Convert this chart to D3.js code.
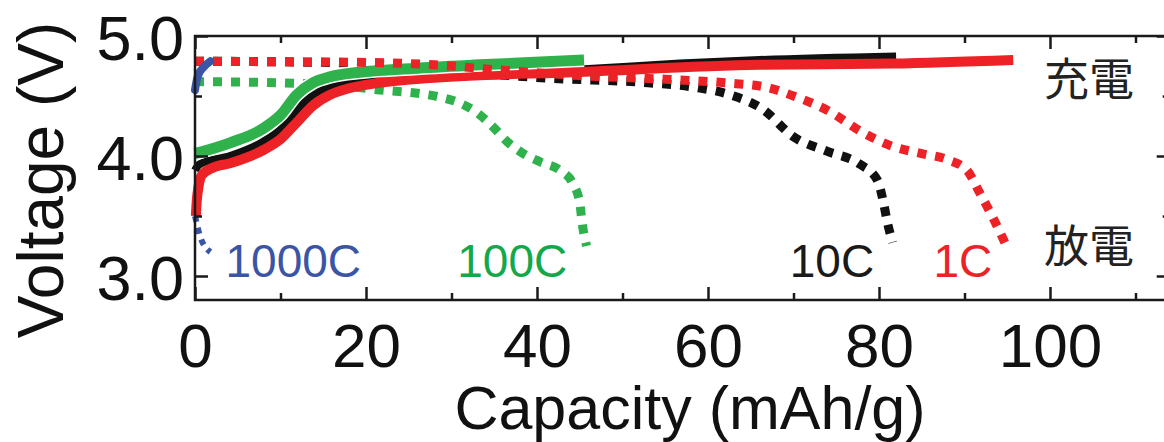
<!DOCTYPE html>
<html>
<head>
<meta charset="utf-8">
<script src="https://cdn.jsdelivr.net/npm/d3@7"></script>
<style>
  body { margin: 0; background: #fff; }
  svg { display: block; }
</style>
</head>
<body>
<div id="chart"></div>
<script>
let width = 1164;
let height = 442;

// capacity (mAh/g), voltage (V)
var charge1C = [[0.1, 3.5], [0.2, 3.62], [0.4, 3.74], [0.8, 3.84], [2, 3.9], [4.1, 3.94], [8, 4.05], [10, 4.14], [11.9, 4.28], [13.8, 4.42], [15.8, 4.51], [17.8, 4.56], [21.6, 4.61], [27.5, 4.65], [45, 4.7], [66, 4.76], [81.6, 4.77], [95.7, 4.8]];
var charge10C = [[0, 3.88], [0.5, 3.93], [4.1, 4.0], [8, 4.12], [10, 4.22], [11.9, 4.38], [13.8, 4.51], [15.8, 4.57], [19.6, 4.63], [25.5, 4.66], [45, 4.72], [56.7, 4.77], [66, 4.8], [82, 4.83]];
var charge100C = [[0, 4.02], [4.1, 4.11], [8, 4.23], [10, 4.34], [11.9, 4.51], [13.8, 4.61], [15.8, 4.66], [19.6, 4.7], [25.5, 4.73], [33.3, 4.76], [45.5, 4.8]];
var charge1000C = [[0, 4.55], [0.3, 4.66], [1, 4.74], [1.8, 4.79]];

var discharge1C = [[0, 4.79], [10, 4.785], [20, 4.78], [28, 4.76], [35, 4.72], [45, 4.67], [55, 4.64], [62, 4.61], [67, 4.57], [70, 4.5], [74, 4.38], [78, 4.2], [81.6, 4.08], [85, 4.02], [88, 3.97], [90.3, 3.88], [91.8, 3.69], [93.3, 3.49], [95.1, 3.22]];
var discharge10C = [[0, 4.79], [10, 4.785], [20, 4.77], [28, 4.72], [41, 4.65], [53, 4.61], [58.7, 4.57], [62.6, 4.51], [66.4, 4.39], [70, 4.16], [73.9, 4.04], [77.8, 3.93], [79.8, 3.8], [80.5, 3.62], [81, 3.44], [81.6, 3.28]];
var discharge100C = [[0, 4.62], [10, 4.61], [18, 4.58], [21.6, 4.55], [26.3, 4.52], [28.7, 4.49], [31, 4.44], [33, 4.36], [34.9, 4.24], [36.5, 4.12], [38.4, 4.02], [40.4, 3.95], [42.7, 3.88], [44.2, 3.77], [45, 3.61], [45.3, 3.43], [45.8, 3.25]];
var discharge1000C = [[0, 3.5], [0.6, 3.33], [1.8, 3.2]];

var xMajor = [0, 20, 40, 60, 80, 100];
var xMinor = [10, 30, 50, 70, 90, 110];
var yMajor = [3.0, 4.0, 5.0];
var yMinor = [3.5, 4.5];

var rateLabels = ["1000C", "100C", "10C", "1C"];
var rateLabelX = [11.5, 37.1, 74.5, 89.8];
var stateLabels = ["充電", "放電"];

var RED = "#ec2227", BLACK = "#111111", GREEN = "#2fb24c", BLUE = "#3a55a6";

var x = d3.scaleLinear().domain([0, 114]).range([195, 195 + 114 * 8.55]);
var y = d3.scaleLinear().domain([2.8, 5.0]).range([300, 36]);

var svg = d3.select("#chart").append("svg")
    .attr("width", width)
    .attr("height", height)
    .style("font-family", "'Liberation Sans', Arial, sans-serif");

var line = d3.line()
    .x(function (d) { return x(d[0]); })
    .y(function (d) { return y(d[1]); })
    .curve(d3.curveMonotoneX);

// discharge curves are dotted, charge curves solid
function dotted(data, color, w) {
    svg.append("path")
        .attr("d", line(data))
        .attr("fill", "none")
        .attr("stroke", color)
        .attr("stroke-width", w)
        .attr("stroke-dasharray", w + "," + w);
}
function solid(data, color, w, halo) {
    if (halo) {
        svg.append("path")
            .attr("d", line(data))
            .attr("fill", "none")
            .attr("stroke", "#fff")
            .attr("stroke-width", w + 3)
            .attr("stroke-linejoin", "round");
    }
    svg.append("path")
        .attr("d", line(data))
        .attr("fill", "none")
        .attr("stroke", color)
        .attr("stroke-width", w)
        .attr("stroke-linejoin", "round");
}

dotted(discharge100C, GREEN, 9);
dotted(discharge10C, BLACK, 9);
solid(charge10C, BLACK, 8, true);
solid(charge1C, RED, 10, false);
solid(charge100C, GREEN, 11, true);
dotted(discharge1C, RED, 9);
dotted(discharge1000C, BLUE, 6);
svg.append("path")
    .attr("d", line(charge1000C))
    .attr("fill", "none")
    .attr("stroke", BLUE)
    .attr("stroke-width", 8)
    .attr("stroke-linecap", "round");

// axes, ticks pointing inwards
function styleAxis(g) {
    g.select(".domain").remove();
    g.selectAll(".tick line").attr("stroke", "#1a1a1a").attr("stroke-width", 2.5);
}

svg.append("g").attr("transform", "translate(0,300)")
    .call(d3.axisBottom(x).tickValues(xMajor).tickSize(-13).tickPadding(23).tickFormat(d3.format("d")))
    .call(styleAxis)
    .selectAll("text").attr("font-size", 62).attr("fill", "#111").attr("font-family", "'Liberation Sans', Arial, sans-serif");
svg.append("g").attr("transform", "translate(0,300)")
    .call(d3.axisBottom(x).tickValues(xMinor).tickSize(-7).tickFormat(""))
    .call(styleAxis);
svg.append("g").attr("transform", "translate(0,36)")
    .call(d3.axisTop(x).tickValues(xMajor).tickSize(-13).tickFormat(""))
    .call(styleAxis);
svg.append("g").attr("transform", "translate(0,36)")
    .call(d3.axisTop(x).tickValues(xMinor).tickSize(-7).tickFormat(""))
    .call(styleAxis);

svg.append("g").attr("transform", "translate(195,0)")
    .call(d3.axisLeft(y).tickValues(yMajor).tickSize(-13).tickPadding(11).tickFormat(d3.format(".1f")))
    .call(styleAxis)
    .selectAll("text").attr("font-size", 63).attr("dy", "0.38em").attr("fill", "#111").attr("font-family", "'Liberation Sans', Arial, sans-serif");
svg.append("g").attr("transform", "translate(195,0)")
    .call(d3.axisLeft(y).tickValues(yMinor).tickSize(-7).tickFormat(""))
    .call(styleAxis);
svg.append("g").attr("transform", "translate(" + x.range()[1] + ",0)")
    .call(d3.axisRight(y).tickValues(yMajor).tickSize(-13).tickFormat(""))
    .call(styleAxis);
svg.append("g").attr("transform", "translate(" + x.range()[1] + ",0)")
    .call(d3.axisRight(y).tickValues(yMinor).tickSize(-7).tickFormat(""))
    .call(styleAxis);

// frame
svg.append("rect")
    .attr("x", x.range()[0])
    .attr("y", y.range()[1])
    .attr("width", x.range()[1] - x.range()[0])
    .attr("height", y.range()[0] - y.range()[1])
    .attr("fill", "none")
    .attr("stroke", "#1a1a1a")
    .attr("stroke-width", 2.5);

// axis titles
svg.append("text")
    .attr("x", 690)
    .attr("y", 429)
    .attr("text-anchor", "middle")
    .attr("font-size", 61)
    .attr("fill", "#111")
    .text("Capacity (mAh/g)");
svg.append("text")
    .attr("transform", "translate(63,180) rotate(-90)")
    .attr("text-anchor", "middle")
    .attr("font-size", 64)
    .attr("fill", "#111")
    .text("Voltage (V)");

// rate labels
var rateColors = [BLUE, "#13a84a", "#1a1a1a", RED];
svg.selectAll(".rate")
    .data(rateLabels)
    .enter()
    .append("text")
    .attr("class", "rate")
    .attr("x", function (d, i) { return x(rateLabelX[i]); })
    .attr("y", 277)
    .attr("text-anchor", "middle")
    .attr("font-size", 46)
    .attr("fill", function (d, i) { return rateColors[i]; })
    .text(function (d) { return d; });

svg.selectAll(".state")
    .data(stateLabels)
    .enter()
    .append("text")
    .attr("class", "state")
    .attr("x", 1089)
    .attr("y", function (d, i) { return i === 0 ? 96 : 263; })
    .attr("text-anchor", "middle")
    .attr("font-size", 45)
    .attr("font-family", "'Noto Sans CJK JP', sans-serif")
    .attr("fill", "#222")
    .text(function (d) { return d; });
</script>
</body>
</html>
